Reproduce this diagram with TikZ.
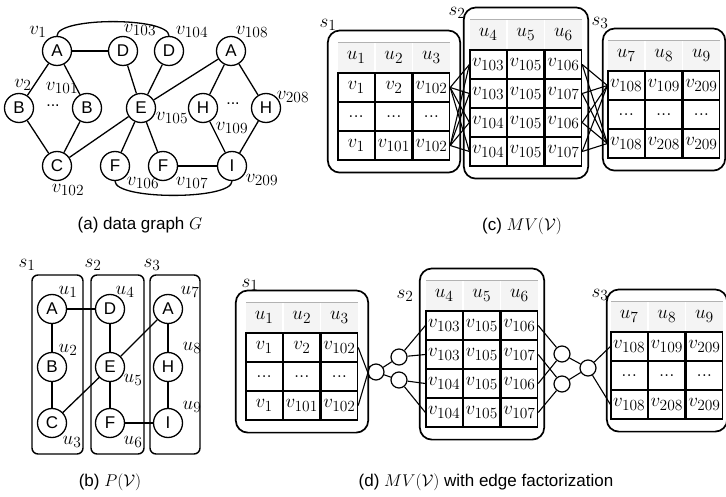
\RequirePackage{fix-cm}
\documentclass[tikz,border=0pt]{standalone}
\usepackage[no-math]{fontspec}
\setmainfont{Liberation Sans}
\usepackage{amsmath,amssymb}
\usetikzlibrary{positioning,fit}
\DeclareMathSizes{19}{19}{15.5}{11}
\newcommand{\rowdots}{\mathrm{...}}

\begin{document}
\begin{tikzpicture}[x=1pt, y=-1pt, every node/.style={font=\fontsize{19}{21}\selectfont}, vtx/.style={draw,circle,line width=1.3pt,minimum size=29pt,inner sep=0pt,font=\fontsize{17}{19}\selectfont}, jn/.style={draw,circle,line width=1.2pt,minimum size=16pt,inner sep=0pt}, cell/.style={draw,line width=1.2pt,minimum width=36.4pt,minimum height=29pt,inner sep=0pt}, head/.style={fill=gray!9,minimum width=36.4pt,minimum height=29.5pt,inner sep=0pt}, sbox/.style={draw,line width=1.7pt,rounded corners=12pt,inner xsep=8pt,inner ysep=12pt}, pbox/.style={draw,line width=1.4pt,rounded corners=6pt}, gedge/.style={line width=1.3pt}, conn/.style={line width=1.1pt}, capt/.style={font=\fontsize{17}{20}\selectfont}]
\useasboundingbox (0,0) rectangle (726,497);

% (a) data graph
\node[vtx] (a1) at (57,51) {A};
\node[vtx] (d103) at (123,51) {D};
\node[vtx] (d104) at (169,51) {D};
\node[vtx] (a108) at (231,51) {A};
\node[vtx] (b2) at (19,108) {B};
\node[vtx] (b101) at (87,108) {B};
\node[vtx] (e105) at (141,108) {E};
\node[vtx] (h109) at (203,108) {H};
\node[vtx] (h208) at (266,108) {H};
\node[vtx] (c102) at (57,166) {C};
\node[vtx] (f106) at (115,166) {F};
\node[vtx] (f107) at (163,166) {F};
\node[vtx] (i209) at (232,166) {I};
\node[font=\fontsize{16}{18}\selectfont] (dotsb) at (53,106) {...};
\node[font=\fontsize{16}{18}\selectfont] (dotsh) at (233,104) {...};
\node (lv1) at (38,32) {$v_1$};
\node (lv103) at (140,30) {$v_{103}$};
\node (lv104) at (192,32) {$v_{104}$};
\node (lv108) at (252,32) {$v_{108}$};
\node (lv2) at (23,85) {$v_2$};
\node (lv101) at (62,88) {$v_{101}$};
\node (lv105) at (172,118) {$v_{105}$};
\node (lv109) at (232,128) {$v_{109}$};
\node (lv208) at (293,97) {$v_{208}$};
\node (lv102) at (68,190) {$v_{102}$};
\node (lv106) at (143,183) {$v_{106}$};
\node (lv107) at (192,183) {$v_{107}$};
\node (lv209) at (262,180) {$v_{209}$};
\draw[gedge] (a1) -- (d103);
\draw[gedge] (a1) -- (b2);
\draw[gedge] (a1) -- (b101);
\draw[gedge] (b2) -- (c102);
\draw[gedge] (b101) -- (c102);
\draw[gedge] (c102) -- (e105);
\draw[gedge] (d103) -- (e105);
\draw[gedge] (d104) -- (e105);
\draw[gedge] (e105) -- (a108);
\draw[gedge] (e105) -- (f106);
\draw[gedge] (e105) -- (f107);
\draw[gedge] (f107) -- (i209);
\draw[gedge] (a108) -- (h109);
\draw[gedge] (a108) -- (h208);
\draw[gedge] (h109) -- (i209);
\draw[gedge] (h208) -- (i209);
\draw[gedge] (a1.north) .. controls +(0,-19) and +(0,-19) .. (d104.north);
\draw[gedge] (f106.south) .. controls +(0,19) and +(0,19) .. (i209.south);
\node[capt] (capa) at (140,225) {(a) data graph $G$};

% (b) P(V)
\draw[pbox] (32,275) rectangle (83,454);
\draw[pbox] (91,275) rectangle (144,454);
\draw[pbox] (150,275) rectangle (200,454);
\node (lps1) at (27,265) {$s_1$};
\node (lps2) at (93,265) {$s_2$};
\node (lps3) at (152,265) {$s_3$};
\node[vtx] (pa) at (52,309) {A};
\node[vtx] (pb) at (52,367) {B};
\node[vtx] (pc) at (52,423) {C};
\node[vtx] (pd) at (110,309) {D};
\node[vtx] (pe) at (110,367) {E};
\node[vtx] (pf) at (110,423) {F};
\node[vtx] (pa2) at (168,309) {A};
\node[vtx] (ph) at (168,367) {H};
\node[vtx] (pi) at (168,423) {I};
\node (lu1) at (68,292) {$u_1$};
\node (lu2) at (68,350) {$u_2$};
\node (lu3) at (72,442) {$u_3$};
\node (lu4) at (125,292) {$u_4$};
\node (lu5) at (133,380) {$u_5$};
\node (lu6) at (133,442) {$u_6$};
\node (lu7) at (190,292) {$u_7$};
\node (lu8) at (192,348) {$u_8$};
\node (lu9) at (192,407) {$u_9$};
\draw[gedge] (pa) -- (pd);
\draw[gedge] (pa) -- (pb);
\draw[gedge] (pb) -- (pc);
\draw[gedge] (pd) -- (pe);
\draw[gedge] (pe) -- (pf);
\draw[gedge] (pc) -- (pe);
\draw[gedge] (pe) -- (pa2);
\draw[gedge] (pf) -- (pi);
\draw[gedge] (pa2) -- (ph);
\draw[gedge] (ph) -- (pi);
\node[capt] (capb) at (110,482) {(b) $P(\mathcal{V})$};

% (c) MV(V)
\foreach \p/\q/\w [count=\r] in {v_1/v_2/v_{102}, \rowdots/\rowdots/\rowdots, v_1/v_{101}/v_{102}} {
  \node[cell] (ca\r1) at (356.2,{87.5+29*(\r-1)}) {$\p$};
  \node[cell,right=0pt of ca\r1] (ca\r2) {$\q$};
  \node[cell,right=0pt of ca\r2] (ca\r3) {$\w$};
}
\foreach \u [count=\k] in {u_1,u_2,u_3}
  \node[head,above=0pt of ca1\k] (ha\k) {$\u$};
\draw[gray!60] (ha1.north west) -- (ha3.north east);
\node[sbox,inner xsep=10pt,fit=(ha1)(ca33)] (sa) {};
\node (lsa) at (328,25) {$s_1$};

\foreach \p/\q/\w [count=\r] in {v_{103}/v_{105}/v_{106}, v_{103}/v_{105}/v_{107}, v_{104}/v_{105}/v_{106}, v_{104}/v_{105}/v_{107}} {
  \node[cell] (cb\r1) at (488.2,{64.5+29*(\r-1)}) {$\p$};
  \node[cell,right=0pt of cb\r1] (cb\r2) {$\q$};
  \node[cell,right=0pt of cb\r2] (cb\r3) {$\w$};
}
\foreach \u [count=\k] in {u_4,u_5,u_6}
  \node[head,above=0pt of cb1\k] (hb\k) {$\u$};
\draw[gray!60] (hb1.north west) -- (hb3.north east);
\node[sbox,inner xsep=6pt,fit=(hb1)(cb43)] (sb) {};
\node (lsb) at (457,13) {$s_2$};

\foreach \p/\q/\w [count=\r] in {v_{108}/v_{109}/v_{209}, \rowdots/\rowdots/\rowdots, v_{108}/v_{208}/v_{209}} {
  \node[cell] (cc\r1) at (626.2,{85.5+29*(\r-1)}) {$\p$};
  \node[cell,right=0pt of cc\r1] (cc\r2) {$\q$};
  \node[cell,right=0pt of cc\r2] (cc\r3) {$\w$};
}
\foreach \u [count=\k] in {u_7,u_8,u_9}
  \node[head,above=0pt of cc1\k] (hc\k) {$\u$};
\draw[gray!60] (hc1.north west) -- (hc3.north east);
\node[sbox,inner xsep=5pt,fit=(hc1)(cc33)] (sc) {};
\node (lsc) at (600,23) {$s_3$};

\foreach \r in {1,3}
  \foreach \k in {1,...,4}
    \draw[conn] (ca\r3.east) -- (cb\k1.west);
\foreach \k in {1,...,4}
  \foreach \r in {1,3}
    \draw[conn] (cb\k3.east) -- (cc\r1.west);
\node[capt] (capc) at (522,226) {(c) $MV(\mathcal{V})$};

% (d) MV(V) with edge factorization
\foreach \p/\q/\w [count=\r] in {v_1/v_2/v_{102}, \rowdots/\rowdots/\rowdots, v_1/v_{101}/v_{102}} {
  \node[cell] (da\r1) at (264.2,{347.5+29*(\r-1)}) {$\p$};
  \node[cell,right=0pt of da\r1] (da\r2) {$\q$};
  \node[cell,right=0pt of da\r2] (da\r3) {$\w$};
}
\foreach \u [count=\k] in {u_1,u_2,u_3}
  \node[head,above=0pt of da1\k] (hd\k) {$\u$};
\draw[gray!60] (hd1.north west) -- (hd3.north east);
\node[sbox,inner xsep=10pt,fit=(hd1)(da33)] (sd) {};
\node (lsd) at (250,285) {$s_1$};

\foreach \p/\q/\w [count=\r] in {v_{103}/v_{105}/v_{106}, v_{103}/v_{105}/v_{107}, v_{104}/v_{105}/v_{106}, v_{104}/v_{105}/v_{107}} {
  \node[cell] (db\r1) at (444.2,{325.5+29*(\r-1)}) {$\p$};
  \node[cell,right=0pt of db\r1] (db\r2) {$\q$};
  \node[cell,right=0pt of db\r2] (db\r3) {$\w$};
}
\foreach \u [count=\k] in {u_4,u_5,u_6}
  \node[head,above=0pt of db1\k] (he\k) {$\u$};
\draw[gray!60] (he1.north west) -- (he3.north east);
\node[sbox,inner xsep=6pt,fit=(he1)(db43)] (se) {};
\node (lse) at (405,296) {$s_2$};

\foreach \p/\q/\w [count=\r] in {v_{108}/v_{109}/v_{209}, \rowdots/\rowdots/\rowdots, v_{108}/v_{208}/v_{209}} {
  \node[cell] (dc\r1) at (629.2,{346.5+29*(\r-1)}) {$\p$};
  \node[cell,right=0pt of dc\r1] (dc\r2) {$\q$};
  \node[cell,right=0pt of dc\r2] (dc\r3) {$\w$};
}
\foreach \u [count=\k] in {u_7,u_8,u_9}
  \node[head,above=0pt of dc1\k] (hf\k) {$\u$};
\draw[gray!60] (hf1.north west) -- (hf3.north east);
\node[sbox,inner xsep=4pt,fit=(hf1)(dc33)] (sf) {};
\node (lsf) at (600,295) {$s_3$};

\node[jn] (j1) at (376,372) {};
\node[jn] (j2) at (399,357) {};
\node[jn] (j3) at (399,380) {};
\node[jn] (j4) at (562,354) {};
\node[jn] (j5) at (562,384) {};
\node[jn] (j6) at (588,368) {};
\draw[conn] (da13.east) -- (j1.south west);
\draw[conn] (da33.east) -- (j1.north west);
\draw[conn] (j1) -- (j2);
\draw[conn] (j1) -- (j3);
\draw[conn] (j2) -- (db11.west);
\draw[conn] (j2) -- (db21.west);
\draw[conn] (j3) -- (db31.west);
\draw[conn] (j3) -- (db41.west);
\draw[conn] (db13.east) -- (j4);
\draw[conn] (db33.east) -- (j4);
\draw[conn] (db23.east) -- (j5);
\draw[conn] (db43.east) -- (j5);
\draw[conn] (j4) -- (j6);
\draw[conn] (j5) -- (j6);
\draw[conn] (j6) -- (dc11.west);
\draw[conn] (j6) -- (dc31.west);
\node[capt] (capd) at (486,482) {(d) $MV(\mathcal{V})$ with edge factorization};
\end{tikzpicture}
\end{document}
